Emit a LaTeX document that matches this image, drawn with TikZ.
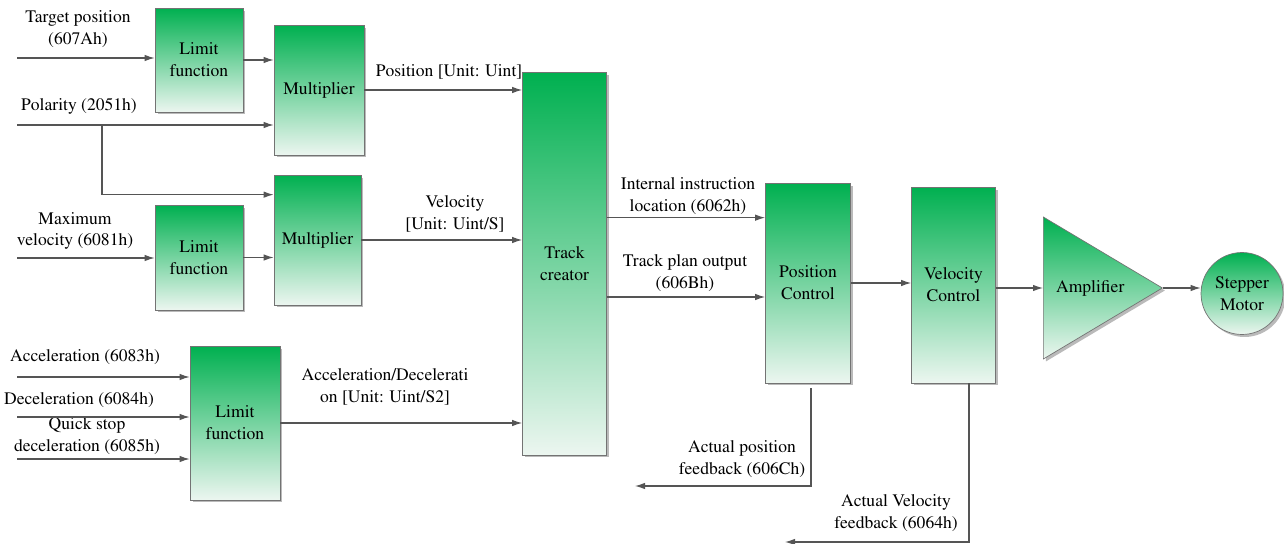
\documentclass[tikz,border=0pt]{standalone}
\usepackage[T1]{fontenc}
\usepackage{mathptmx}
\usepackage{tikz}
\usetikzlibrary{arrows.meta,positioning,shapes.geometric,shadows,calc}

\definecolor{gtop}{RGB}{0,176,80}
\definecolor{gbot}{RGB}{236,246,240}
\definecolor{linegray}{RGB}{85,85,85}

\begin{document}
\begin{tikzpicture}[
    x=0.02cm, y=-0.02cm,
    font=\rmfamily\fontsize{10}{12.4}\selectfont,
    block/.style={draw=black!55, align=center, top color=gtop, bottom color=gbot, inner sep=1pt,
        drop shadow={shadow xshift=0.5mm, shadow yshift=-0.5mm, fill=black!45, opacity=0.6}},
    lbl/.style={align=center, inner sep=0pt},
    arrow/.style={-{Latex[length=2mm,width=1.3mm]}, draw=linegray, line width=0.65pt}
]
\useasboundingbox (0,0) rectangle (1284,544);

% blocks
\node[block, minimum width=1.76cm, minimum height=2.08cm] (lim1) at (199,60) {Limit\\function};
\node[block, minimum width=1.80cm, minimum height=2.60cm] (mul1) at (319,90) {Multiplier};
\node[block, minimum width=1.74cm, minimum height=2.60cm] (mul2) at (317.5,240) {Multiplier};
\node[block, minimum width=1.76cm, minimum height=2.10cm] (lim2) at (199,257.5) {Limit\\function};
\node[block, minimum width=1.80cm, minimum height=3.08cm] (lim3) at (235,423) {Limit\\function};
\node[block, minimum width=1.68cm, minimum height=7.66cm] (track) at (564.5,263.5) {Track\\creator};
\node[block, minimum width=1.70cm, minimum height=4.00cm] (posc) at (808,283) {Position\\Control};
\node[block, minimum width=1.68cm, minimum height=3.92cm] (velc) at (953.5,285) {Velocity\\Control};
\node[block, isosceles triangle, isosceles triangle stretches, minimum width=2.84cm, minimum height=2.38cm,
      inner sep=0pt, anchor=west] (amp) at (1043,288) {Amplifier};
\node[block, circle, minimum size=1.64cm, inner sep=0pt] (motor) at (1242,293.5) {Stepper\\Motor};

% free ends
\coordinate (tgt) at (17,58);
\coordinate (pol) at (17,125);
\coordinate (br) at (102,125);
\coordinate (vmax) at (17,258);
\coordinate (acc) at (17,377);
\coordinate (dec) at (17,417);
\coordinate (qs) at (17,459);
\coordinate (in1) at ([yshift=-7mm]posc.north west);
\coordinate (in2) at ([yshift=-2.8mm]posc.west);
\coordinate (fb1) at (635,486);
\coordinate (fb2) at (785,542);

% labels
\node[lbl] (tgtlbl) at (78,29) {Target position\\(607Ah)};
\node[lbl] (pollbl) at (79,106) {Polarity (2051h)};
\node[lbl] (vmaxlbl) at (75,231) {Maximum\\velocity (6081h)};
\node[lbl] (acclbl) at (85,357) {Acceleration (6083h)};
\node[lbl] (declbl) at (79,400) {Deceleration (6084h)};
\node[lbl] (qslbl) at (87,436) {Quick stop\\deceleration (6085h)};
\node[lbl] (poslbl) at (449,72) {Position [Unit: Uint]};
\node[lbl] (vellbl) at (455,214) {Velocity\\{[Unit: Uint/S]}};
\node[lbl] (acdlbl) at (385,387) {Acceleration/Decelerati\\on [Unit: Uint/S2]};
\node[lbl] (in1lbl) at (688,196) {Internal instruction\\location (6062h)};
\node[lbl] (in2lbl) at (685,273) {Track plan output\\(606Bh)};
\node[lbl] (fb1lbl) at (742,459) {Actual position\\feedback (606Ch)};
\node[lbl] (fb2lbl) at (896,513) {Actual Velocity\\feedback (6064h)};

% connectors
\draw[arrow] (tgt) -- (tgt -| lim1.west);
\draw[arrow] (lim1.east) -- (lim1.east -| mul1.west);
\draw[arrow] (pol) -- (pol -| mul1.west);
\draw[arrow] (br) |- ([yshift=-4mm]mul2.north west);
\draw[arrow] (vmax) -- (vmax -| lim2.west);
\draw[arrow] (lim2.east) -- (lim2.east -| mul2.west);
\draw[arrow] (acc) -- (acc -| lim3.west);
\draw[arrow] (dec) -- (dec -| lim3.west);
\draw[arrow] (qs) -- (qs -| lim3.west);
\draw[arrow] (mul1.east) -- (mul1.east -| track.west);
\draw[arrow] (mul2.east) -- (mul2.east -| track.west);
\draw[arrow] (lim3.east) -- (lim3.east -| track.west);
\draw[arrow] (track.east |- in1) -- (in1);
\draw[arrow] (track.east |- in2) -- (in2);
\draw[arrow] (posc.east) -- (posc.east -| velc.west);
\draw[arrow] (amp.west -| velc.east) -- (amp.west);
\draw[arrow] (amp.apex) -- (amp.apex -| motor.west);
\draw[arrow] ([xshift=0.6mm,yshift=-1mm]posc.south) |- (fb1);
\draw[arrow] ([xshift=3.1mm]velc.south) |- (fb2);
\end{tikzpicture}
\end{document}
